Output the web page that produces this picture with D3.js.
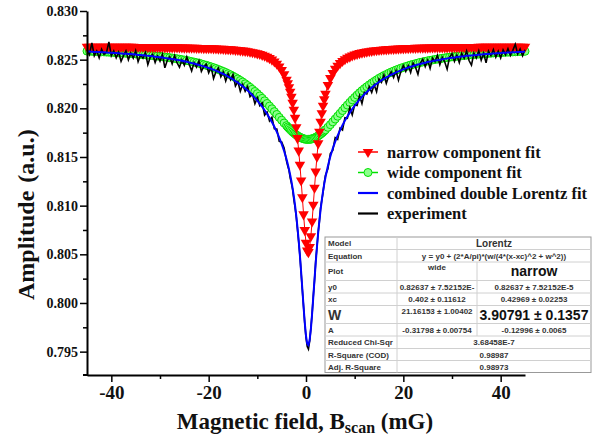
<!DOCTYPE html>
<html lang="en">
<head>
<meta charset="UTF-8">
<title>Double Lorentz fit</title>
<style>
  body { margin: 0; background: #fff; }
  .serif { font-family: "Liberation Serif", "Times New Roman", serif; font-weight: bold; fill: #111; }
  .tbl text { font-family: "Liberation Sans", Arial, sans-serif; font-weight: bold; fill: #333; }
  .axis path, .axis line { stroke: #000; }
</style>
</head>
<body>
<div id="chart"></div>
<script src="https://d3js.org/d3.v7.min.js"></script>
<script>
// magnetic field grid (mG): 0.5 steps in the tails, 0.25 near the dip
var field = d3.range(-45, -3.9, 0.5).concat(d3.range(-3.75, 3.8, 0.25), d3.range(4, 45.1, 0.5));

var narrowFit = [
  .82633,.82633,.82633,.82633,.82633,.82633,.82632,.82632,.82632,.82632,
  .82632,.82632,.82632,.82632,.82631,.82631,.82631,.82631,.82631,.82631,
  .8263,.8263,.8263,.8263,.8263,.82629,.82629,.82629,.82629,.82628,
  .82628,.82628,.82627,.82627,.82627,.82626,.82626,.82626,.82625,.82625,
  .82624,.82624,.82623,.82622,.82622,.82621,.8262,.8262,.82619,.82618,
  .82618,.82617,.82616,.82615,.82613,.82612,.82611,.82609,.82607,.82606,
  .82604,.82601,.82599,.82596,.82593,.8259,.82586,.82582,.82577,.82571,
  .82565,.82558,.8255,.8254,.82529,.82516,.825,.82481,.82458,.8243,
  .82394,.8235,.82292,
  .82257,.82217,.82171,.82118,.82057,.81985,.81902,.81806,.81694,.81565,
  .8142,.81258,.81086,.80911,.80749,.80618,.80538,.80523,.80575,.80686,
  .80837,.81009,.81184,.8135,.81504,.8164,.81759,.81862,.8195,.82027,
  .82092,
  .82149,.8224,.8231,.82363,.82405,.82438,.82465,.82487,.82505,.8252,
  .82532,.82543,.82552,.8256,.82567,.82573,.82578,.82583,.82587,.82591,
  .82594,.82597,.826,.82602,.82604,.82606,.82608,.8261,.82611,.82613,
  .82614,.82615,.82616,
  .82617,.82619,.8262,.8262,.82621,.82622,.82622,.82623,.82624,.82624,
  .82625,.82625,.82626,.82626,.82626,.82627,.82627,.82627,.82628,.82628,
  .82628,.82629,.82629,.82629,.82629,.8263,.8263,.8263,.8263,.8263,
  .82631,.82631,.82631,.82631,.82631,.82631,.82632,.82632,.82632,.82632,
  .82632,.82632,.82632,.82632,.82633,.82633,.82633,.82633,.82633,.82633
];

var wideFit = [
  .82588,.82587,.82586,.82584,.82583,.82582,.82581,.8258,.82578,.82577,
  .82576,.82574,.82573,.82571,.8257,.82568,.82566,.82564,.82563,.82561,
  .82559,.82556,.82554,.82552,.8255,.82547,.82545,.82542,.82539,.82537,
  .82534,.82531,.82527,.82524,.8252,.82517,.82513,.82509,.82505,.825,
  .82496,.82491,.82486,.8248,.82475,.82469,.82463,.82456,.82449,.82442,
  .82434,.82426,.82418,.82409,.82399,.82389,.82379,.82368,.82356,.82344,
  .8233,.82316,.82302,.82286,.8227,.82252,.82234,.82215,.82194,.82173,
  .82151,.82127,.82103,.82077,.8205,.82023,.81995,.81966,.81937,.81907,
  .81878,.81849,.81822,
  .81808,.81795,.81782,.8177,.81758,.81747,.81737,.81727,.81718,.8171,
  .81703,.81697,.81692,.81687,.81684,.81682,.81681,.81681,.81681,.81683,
  .81687,.81691,.81696,.81702,.81709,.81717,.81725,.81735,.81745,.81756,
  .81768,
  .8178,.81805,.81832,.81861,.8189,.81919,.81948,.81977,.82006,.82034,
  .82061,.82087,.82112,.82136,.8216,.82182,.82203,.82222,.82241,.82259,
  .82276,.82292,.82308,.82322,.82336,.82348,.82361,.82372,.82383,.82393,
  .82403,.82412,.82421,.82429,.82437,.82445,.82452,.82459,.82465,.82471,
  .82477,.82482,.82488,.82493,.82497,.82502,.82506,.8251,.82514,.82518,
  .82522,.82525,.82529,.82532,.82535,.82538,.82541,.82543,.82546,.82548,
  .82551,.82553,.82555,.82557,.82559,.82561,.82563,.82565,.82567,.82569,
  .8257,.82572,.82573,.82575,.82576,.82578,.82579,.8258,.82581,.82583,
  .82584,.82585,.82586
];

var combinedFit = [
  .82584,.82583,.82582,.8258,.82579,.82578,.82576,.82575,.82573,.82572,
  .82571,.82569,.82568,.82566,.82564,.82562,.8256,.82558,.82557,.82555,
  .82552,.82549,.82547,.82545,.82543,.82539,.82537,.82534,.82531,.82528,
  .82525,.82522,.82517,.82514,.8251,.82506,.82502,.82498,.82493,.82488,
  .82483,.82478,.82472,.82465,.8246,.82453,.82446,.82439,.82431,.82423,
  .82415,.82406,.82397,.82387,.82375,.82364,.82353,.8234,.82326,.82313,
  .82297,.8228,.82264,.82245,.82226,.82205,.82183,.8216,.82134,.82107,
  .82079,.82048,.82016,.8198,.81942,.81902,.81858,.8181,.81758,.817,
  .81635,.81562,.81477,
  .81428,.81375,.81316,.81251,.81178,.81095,.81002,.80896,.80775,.80638,
  .80486,.80318,.80141,.79961,.79796,.79663,.79582,.79567,.79619,.79732,
  .79887,.80062,.80242,.80415,.80575,.80719,.80846,.80959,.81058,.81146,
  .81223,
  .81292,.81408,.81505,.81587,.81658,.8172,.81776,.81827,.81874,.81917,
  .81956,.81993,.82027,.82059,.8209,.82118,.82144,.82168,.82191,.82213,
  .82233,.82252,.82271,.82287,.82303,.82317,.82332,.82345,.82357,.82369,
  .8238,.8239,.824,.8241,.82419,.82428,.82435,.82443,.8245,.82456,
  .82463,.82469,.82475,.82481,.82485,.82491,.82495,.82499,.82504,.82508,
  .82512,.82516,.8252,.82523,.82527,.8253,.82533,.82535,.82539,.82541,
  .82544,.82546,.82548,.82551,.82553,.82555,.82557,.82559,.82561,.82564,
  .82565,.82567,.82568,.8257,.82571,.82573,.82574,.82576,.82577,.82579,
  .8258,.82581,.82582
];

var experiment = [
  .82604,.82553,.82672,.8254,.82589,.82518,.82606,.82555,.82573,.82682,
  .82541,.82589,.82518,.82576,.82484,.82542,.8259,.82498,.82567,.82515,
  .82592,.82479,.82547,.82515,.82573,.82449,.82527,.82554,.82471,.82538,
  .82485,.82552,.82417,.82494,.8253,.82456,.82542,.82468,.82423,.82498,
  .82443,.82528,.82452,.82385,.8247,.82423,.82486,.82379,.82431,.82453,
  .82365,.82426,.82307,.82377,.82415,.82324,.82373,.8228,.82356,.82293,
  .82347,.8223,.82274,.82175,.82246,.82175,.82223,.8212,.82144,.82047,
  .82109,.82028,.82056,.8193,.81962,.81872,.81908,.8179,.81788,.8166,
  .81655,.81592,.81457,
  .81408,.81365,.81286,.81231,.81168,.81065,.80982,.80886,.80755,.80628,
  .80486,.80308,.80131,.79961,.79786,.79643,.79552,.79527,.79609,.79742,
  .79887,.80072,.80232,.80435,.80575,.80729,.80836,.80979,.81058,.81136,
  .81233,
  .81312,.81378,.81535,.81567,.81698,.8168,.81796,.81777,.81904,.81897,
  .82006,.81933,.82037,.82029,.8213,.82048,.82164,.82148,.82221,.82163,
  .82243,.82172,.82301,.82267,.82343,.82257,.82332,.82375,.82317,.82389,
  .8229,.8238,.8244,.8238,.82439,.82368,.82465,.82423,.8235,.82466,
  .82503,.82429,.82495,.82411,.82515,.82481,.82545,.82449,.82524,.82478,
  .82402,.82526,.8256,.82483,.82547,.8247,.82563,.82515,.82589,.82491,
  .82444,.82566,.82518,.82591,.82493,.82565,.82467,.82589,.82541,.82604,
  .82525,.82587,.82518,.826,.82551,.82613,.82544,.82596,.82657,.82559,
  .8261,.82541,.82602
];

var xTicks = [-40, -20, 0, 20, 40];
var xMinor = [-30, -10, 10, 30];
var yTicks = [0.795, 0.800, 0.805, 0.810, 0.815, 0.820, 0.825, 0.830];
var yMinor = [0.7975, 0.8025, 0.8075, 0.8125, 0.8175, 0.8225, 0.8275];

var legendNames = ["narrow component fit", "wide component fit", "combined double Lorentz fit", "experiment"];

var tableLabels = ["Model", "Equation", "Plot", "y0", "xc", "W", "A", "Reduced Chi-Sqr", "R-Square (COD)", "Adj. R-Square"];
var tableWide = [null, null, "wide", "0.82637 \u00b1 7.52152E-", "0.402 \u00b1 0.11612", "21.16153 \u00b1 1.00402", "-0.31798 \u00b1 0.00754", null, null, null];
var tableNarrow = [null, null, "narrow", "0.82637 \u00b1 7.52152E-5", "0.42969 \u00b1 0.02253", "3.90791 \u00b1 0.1357", "-0.12996 \u00b1 0.0065", null, null, null];
var tableMerged = ["Lorentz", "y = y0 + (2*A/pi)*(w/(4*(x-xc)^2 + w^2))", null, null, null, null, null, "3.68458E-7", "0.98987", "0.98973"];

[narrowFit, wideFit, combinedFit, experiment].forEach(function(s) {
  if (s.length !== field.length) throw new Error("length " + s.length + " vs " + field.length);
});

var width = 596, height = 439;

var svg = d3.select("#chart").append("svg")
    .attr("width", width)
    .attr("height", height);

var x = d3.scaleLinear().domain([-45, 45]).range([87, 525]);
var y = d3.scaleLinear().domain([0.7926, 0.830]).range([375, 11]);

function lineOf(values) {
  return d3.line()
      .x(function(d, i) { return x(field[i]); })
      .y(function(d) { return y(d); })(values);
}

var tri = d3.symbol().type(d3.symbolTriangle).size(48)();

// wide component: green line with open circles
svg.append("path").attr("d", lineOf(wideFit))
    .attr("fill", "none").attr("stroke", "#00e000").attr("stroke-width", 1.5);
svg.append("g").selectAll("circle")
    .data(wideFit)
    .enter().append("circle")
    .attr("cx", function(d, i) { return x(field[i]); })
    .attr("cy", function(d) { return y(d); })
    .attr("r", 4)
    .attr("fill", "#8cff8c")
    .attr("stroke", "#00e000")
    .attr("stroke-width", 1);

// narrow component: red line with down triangles
svg.append("path").attr("d", lineOf(narrowFit))
    .attr("fill", "none").attr("stroke", "#ff0000").attr("stroke-width", 1);
svg.append("g").selectAll("path")
    .data(narrowFit)
    .enter().append("path")
    .attr("d", tri)
    .attr("transform", function(d, i) { return "translate(" + x(field[i]) + "," + y(d) + ") rotate(180)"; })
    .attr("fill", "#ff0000");

svg.append("path").attr("d", lineOf(experiment))
    .attr("fill", "none").attr("stroke", "#000").attr("stroke-width", 1.6);

svg.append("path").attr("d", lineOf(combinedFit))
    .attr("fill", "none").attr("stroke", "#0000ff").attr("stroke-width", 2);

// axes
var xAxis = svg.append("g").attr("class", "axis").attr("transform", "translate(0,375)")
    .call(d3.axisBottom(x).tickValues(xTicks).tickSize(7).tickSizeOuter(0).tickPadding(4).tickFormat(d3.format("d")));
svg.append("g").attr("class", "axis").attr("transform", "translate(0,375)")
    .call(d3.axisBottom(x).tickValues(xMinor).tickSize(4).tickSizeOuter(0).tickFormat(""))
    .select(".domain").remove();
var yAxis = svg.append("g").attr("class", "axis").attr("transform", "translate(87,0)")
    .call(d3.axisLeft(y).tickValues(yTicks).tickSize(7).tickSizeOuter(0).tickPadding(2).tickFormat(d3.format(".3f")));
svg.append("g").attr("class", "axis").attr("transform", "translate(87,0)")
    .call(d3.axisLeft(y).tickValues(yMinor).tickSize(4).tickSizeOuter(0).tickFormat(""))
    .select(".domain").remove();
// x axis line runs a little past the y axis
svg.append("line").attr("x1", 83).attr("x2", 88).attr("y1", 375).attr("y2", 375)
    .attr("stroke", "#000").attr("stroke-width", 2);

svg.selectAll(".axis .domain").attr("stroke-width", 2);
svg.selectAll(".axis .tick line").attr("stroke-width", 1.5);
xAxis.selectAll(".tick text").attr("class", "serif").style("font-size", "19px").attr("fill", "#111")
    .text(function(d) { return d < 0 ? "-" + Math.abs(d) : d; });
yAxis.selectAll(".tick text").attr("class", "serif").style("font-size", "14px").attr("fill", "#111");

// axis titles
var yt = svg.append("text").attr("class", "serif")
    .attr("transform", "translate(34,300) rotate(-90)")
    .style("font-size", "24px");
yt.append("tspan").text("Amplitude");
yt.append("tspan").attr("dx", 8).text("(a.u.)");

var xt = svg.append("text").attr("class", "serif")
    .attr("x", 305).attr("y", 429)
    .attr("text-anchor", "middle")
    .style("font-size", "23px");
xt.append("tspan").text("Magnetic field, B");
xt.append("tspan").attr("dy", 4).style("font-size", "16px").text("scan");
xt.append("tspan").attr("dy", -4).text(" (mG)");

// legend
var legend = svg.append("g").attr("transform", "translate(358,152)");
var row = legend.selectAll("g").data(legendNames).enter().append("g")
    .attr("transform", function(d, i) { return "translate(0," + i * 20.5 + ")"; });
var legendColors = ["#ff0000", "#00e000", "#0000ff", "#000"];
row.append("line").attr("x1", 0).attr("x2", 20).attr("y1", 0).attr("y2", 0)
    .attr("stroke", function(d, i) { return legendColors[i]; })
    .attr("stroke-width", function(d, i) { return i < 2 ? 1.5 : 2.2; });
row.filter(function(d, i) { return i === 0; }).append("path")
    .attr("d", tri).attr("transform", "translate(10,0) rotate(180)").attr("fill", "#ff0000");
row.filter(function(d, i) { return i === 1; }).append("circle")
    .attr("cx", 10).attr("r", 4).attr("fill", "#8cff8c").attr("stroke", "#00e000");
row.append("text").attr("class", "serif")
    .attr("x", 29).attr("y", 5.5)
    .style("font-size", "16.5px")
    .text(function(d) { return d; });

// fit table
var rowH = [12.5, 12.5, 18.5, 12.5, 12.5, 18, 12.5, 12.5, 12, 12];
var rowTop = [237];
rowH.forEach(function(h, i) { rowTop.push(rowTop[i] + h); });
var colX = [325, 397, 477, 591];

var tbl = svg.append("g").attr("class", "tbl");
tbl.append("rect").attr("x", colX[0]).attr("y", rowTop[0])
    .attr("width", colX[3] - colX[0]).attr("height", rowTop[10] - rowTop[0])
    .attr("fill", "#fff").attr("stroke", "#999").attr("stroke-width", 1);
tbl.selectAll("line.h").data(rowTop.slice(1, 10)).enter().append("line")
    .attr("x1", colX[0]).attr("x2", colX[3])
    .attr("y1", function(d) { return d; }).attr("y2", function(d) { return d; })
    .attr("stroke", "#d0d0d0").attr("stroke-width", 1);
tbl.append("line").attr("x1", colX[1]).attr("x2", colX[1])
    .attr("y1", rowTop[0]).attr("y2", rowTop[10]).attr("stroke", "#d0d0d0");
tbl.append("line").attr("x1", colX[2]).attr("x2", colX[2])
    .attr("y1", rowTop[2]).attr("y2", rowTop[7]).attr("stroke", "#d0d0d0");

tableLabels.forEach(function(lab, i) {
  var mid = rowTop[i] + rowH[i] / 2;
  var big = (i === 2 || i === 5);
  tbl.append("text").attr("x", colX[0] + 3).attr("y", mid + (i === 5 ? 5 : 3))
      .style("font-size", i === 5 ? "14px" : "8px").text(lab);
  if (tableMerged[i]) {
    tbl.append("text").attr("x", (colX[1] + colX[3]) / 2).attr("y", mid + (i === 0 ? 3.5 : 3))
        .attr("text-anchor", "middle")
        .style("font-size", i === 0 ? "10px" : "8px")
        .text(tableMerged[i]);
  }
  if (tableWide[i]) {
    tbl.append("text").attr("x", (colX[1] + colX[2]) / 2).attr("y", big ? rowTop[i] + 8 : mid + 3)
        .attr("text-anchor", "middle").style("font-size", "8px").text(tableWide[i]);
  }
  if (tableNarrow[i]) {
    tbl.append("text").attr("x", (colX[2] + colX[3]) / 2).attr("y", big ? mid + 5 : mid + 3)
        .attr("text-anchor", "middle").style("font-size", big ? "14px" : "8px")
        .style("fill", big ? "#111" : "#333").text(tableNarrow[i]);
  }
});
</script>
</body>
</html>
